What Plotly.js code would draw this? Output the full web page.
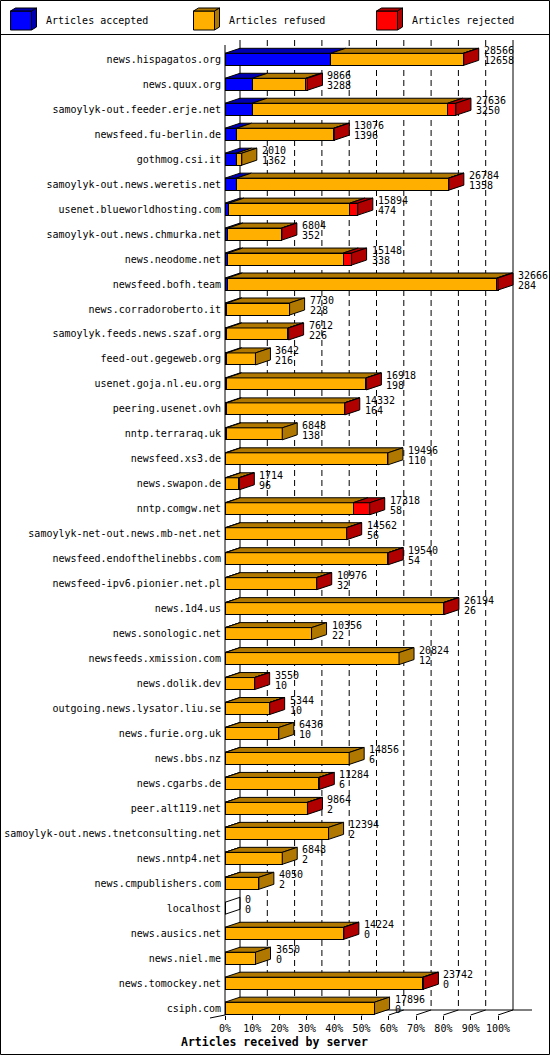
<!DOCTYPE html>
<html>
<head>
<meta charset="utf-8">
<script src="https://cdn.plot.ly/plotly-3.0.1.min.js"></script>
<style>html,body{margin:0;padding:0;background:#fff}</style>
</head>
<body>
<div id="chart" style="width:550px;height:1055px"></div>
<script>
// Articles received by server, innreport style
const servers = [
  'news.hispagatos.org', 'news.quux.org', 'samoylyk-out.feeder.erje.net', 'newsfeed.fu-berlin.de',
  'gothmog.csi.it', 'samoylyk-out.news.weretis.net', 'usenet.blueworldhosting.com',
  'samoylyk-out.news.chmurka.net', 'news.neodome.net', 'newsfeed.bofh.team', 'news.corradoroberto.it',
  'samoylyk.feeds.news.szaf.org', 'feed-out.gegeweb.org', 'usenet.goja.nl.eu.org', 'peering.usenet.ovh',
  'nntp.terraraq.uk', 'newsfeed.xs3.de', 'news.swapon.de', 'nntp.comgw.net',
  'samoylyk-net-out.news.mb-net.net', 'newsfeed.endofthelinebbs.com', 'newsfeed-ipv6.pionier.net.pl',
  'news.1d4.us', 'news.sonologic.net', 'newsfeeds.xmission.com', 'news.dolik.dev',
  'outgoing.news.lysator.liu.se', 'news.furie.org.uk', 'news.bbs.nz', 'news.cgarbs.de', 'peer.alt119.net',
  'samoylyk-out.news.tnetconsulting.net', 'news.nntp4.net', 'news.cmpublishers.com', 'localhost',
  'news.ausics.net', 'news.niel.me', 'news.tomockey.net', 'csiph.com'
];
const totals = [
  28566, 9866, 27636, 13076, 2010, 26784, 15894, 6804, 15148, 32666, 7730, 7612, 3642, 16918, 14332,
  6848, 19496, 1714, 17318, 14562, 19540, 10976, 26194, 10356, 20824, 3550, 5344, 6436, 14856, 11284,
  9864, 12394, 6848, 4050, 0, 14224, 3650, 23742, 17896
];
const accepted = [
  12658, 3288, 3250, 1396, 1362, 1358, 474, 352, 338, 284, 228, 226, 216, 198, 164, 138, 110, 96, 58,
  56, 54, 32, 26, 22, 12, 10, 10, 10, 6, 6, 2, 2, 2, 2, 0, 0, 0, 0, 0
];
// read off the red segments (estimates)
const rejected = [
  60, 200, 1000, 80, 0, 50, 950, 50, 1000, 150, 0, 80, 0, 60, 30, 0, 0, 50, 2000, 30, 40, 40, 100,
  0, 0, 40, 40, 0, 0, 40, 40, 0, 0, 0, 0, 30, 0, 100, 0
];
const refused = totals.map((t, i) => t - accepted[i] - rejected[i]);
const seriesNames = ['Articles accepted', 'Articles refused', 'Articles rejected'];
const faceColors = ['#0000FF', '#FFAF00', '#FF0000'];
const shadeColors = ['#0000B0', '#B07800', '#B00000'];
const pctTicks = [0, 10, 20, 30, 40, 50, 60, 70, 80, 90, 100];

// page geometry, pixels
const W = 550, H = 1055;
const PLOT_L = 225, PLOT_R = 545, PLOT_T = 40, PLOT_B = 1015;
const FULL_PX = 273;          // front face length of 100%
const DEPTH_X = 15, DEPTH_Y = 5;
const ROW_PX = 24.97, FIRST_ROW_PX = 59.3, BAR_PX = 12;
const BACK_FLOOR = 1010;
const FONT = 'DejaVu Sans Mono, Liberation Mono, monospace';

const maxTotal = Math.max(...totals);
const px2val = p => (p - PLOT_L) * maxTotal / FULL_PX;
const px2x = p => (p - PLOT_L) / (PLOT_R - PLOT_L);
const py2y = p => (PLOT_B - p) / (PLOT_B - PLOT_T);
const dxVal = DEPTH_X * maxTotal / FULL_PX;
const dyVal = DEPTH_Y / ROW_PX;
const halfBar = BAR_PX / 2 / ROW_PX;
const rows = servers.map((s, i) => i);
const yTop = -(FIRST_ROW_PX - PLOT_T) / ROW_PX;
const yBottom = (PLOT_B - FIRST_ROW_PX) / ROW_PX;

const black = { color: '#000', width: 1 };
const shapes = [];
const annotations = [];

// walls, floor and back grid
pctTicks.forEach(k => {
  const front = maxTotal * k / 100;
  const back = front + dxVal;
  shapes.push({
    type: 'line', layer: 'below', xref: 'x', yref: 'paper',
    x0: back, x1: back, y0: py2y(PLOT_T), y1: py2y(BACK_FLOOR),
    line: { color: '#000', width: 1, dash: (k === 0 || k === 100) ? 'solid' : '6px,4px' }
  });
  shapes.push({
    type: 'line', layer: 'below', xref: 'x', yref: 'paper',
    x0: front, x1: back, y0: 0, y1: py2y(BACK_FLOOR), line: black
  });
});
shapes.push({ type: 'line', layer: 'below', xref: 'x', yref: 'paper',
  x0: dxVal, x1: px2val(532), y0: py2y(BACK_FLOOR), y1: py2y(BACK_FLOOR), line: black });
shapes.push({ type: 'line', layer: 'below', xref: 'paper', yref: 'paper',
  x0: 0, x1: 0, y0: py2y(45), y1: 0, line: black });
shapes.push({ type: 'line', layer: 'below', xref: 'paper', yref: 'paper',
  x0: px2x(210), x1: 0, y0: py2y(1018), y1: 0, line: black });

// 3D top and side faces of each bar
servers.forEach((name, i) => {
  const parts = [accepted[i], refused[i], rejected[i]];
  const yt = i - halfBar, yb = i + halfBar;
  let x0 = 0, last = -1;
  parts.forEach((v, s) => {
    if (v <= 0) return;
    const x1 = x0 + v;
    shapes.push({
      type: 'path', layer: 'above', xref: 'x', yref: 'y',
      path: `M${x0},${yt}L${x1},${yt}L${x1 + dxVal},${yt - dyVal}L${x0 + dxVal},${yt - dyVal}Z`,
      fillcolor: shadeColors[s], line: black
    });
    x0 = x1;
    last = s;
  });
  const xe = totals[i];
  shapes.push({
    type: 'path', layer: 'above', xref: 'x', yref: 'y',
    path: `M${xe},${yt}L${xe + dxVal},${yt - dyVal}L${xe + dxVal},${yb - dyVal}L${xe},${yb}Z`,
    fillcolor: last >= 0 ? shadeColors[last] : 'rgba(0,0,0,0)', line: black
  });
  annotations.push({
    xref: 'x', yref: 'y', x: totals[i], y: i, xanchor: 'left', yanchor: 'middle',
    xshift: DEPTH_X + 3, yshift: 8.5, text: String(totals[i]), showarrow: false,
    font: { family: FONT, size: 10, color: '#000' }
  });
  annotations.push({
    xref: 'x', yref: 'y', x: totals[i], y: i, xanchor: 'left', yanchor: 'middle',
    xshift: DEPTH_X + 3, yshift: -1.5, text: String(accepted[i]), showarrow: false,
    font: { family: FONT, size: 10, color: '#000' }
  });
});

// legend: 3D boxes drawn by hand
const legendX = [10.5, 193.5, 376.5];
seriesNames.forEach((label, s) => {
  const l = legendX[s], r = l + 21, t = 11, b = 30, dx = 5, dy = 3;
  const P = (x, y) => `${px2x(x)},${py2y(y)}`;
  shapes.push({ type: 'rect', xref: 'paper', yref: 'paper',
    x0: px2x(l), x1: px2x(r), y0: py2y(b), y1: py2y(t), fillcolor: faceColors[s], line: black });
  shapes.push({ type: 'path', xref: 'paper', yref: 'paper',
    path: `M${P(l, t)}L${P(r, t)}L${P(r + dx, t - dy)}L${P(l + dx, t - dy)}Z`,
    fillcolor: shadeColors[s], line: black });
  shapes.push({ type: 'path', xref: 'paper', yref: 'paper',
    path: `M${P(r, t)}L${P(r + dx, t - dy)}L${P(r + dx, b - dy)}L${P(r, b)}Z`,
    fillcolor: shadeColors[s], line: black });
  annotations.push({ xref: 'paper', yref: 'paper', x: px2x(l + 33.5), y: py2y(20.5),
    xanchor: 'left', yanchor: 'middle', text: label, showarrow: false,
    font: { family: FONT, size: 10, color: '#000' } });
});

// frame and legend separator
shapes.push({ type: 'rect', xref: 'paper', yref: 'paper',
  x0: px2x(0.5), x1: px2x(W - 0.5), y0: py2y(H - 0.5), y1: py2y(0.5), line: black });
shapes.push({ type: 'line', xref: 'paper', yref: 'paper',
  x0: px2x(0), x1: px2x(W), y0: py2y(34.5), y1: py2y(34.5), line: black });

annotations.push({ xref: 'paper', yref: 'paper', x: px2x(179), y: py2y(1042),
  xanchor: 'left', yanchor: 'middle', text: '<b>Articles received by server</b>', showarrow: false,
  font: { family: FONT, size: 11.5, color: '#000' } });

const traces = seriesNames.map((name, s) => ({
  type: 'bar', orientation: 'h', name: name,
  y: rows, x: [accepted, refused, rejected][s],
  width: BAR_PX / ROW_PX,
  marker: { color: faceColors[s], line: black },
  hoverinfo: 'skip'
}));

const layout = {
  width: W, height: H,
  margin: { l: PLOT_L, r: W - PLOT_R, t: PLOT_T, b: H - PLOT_B, pad: 0 },
  barmode: 'stack',
  showlegend: false,
  paper_bgcolor: '#fff', plot_bgcolor: '#fff',
  xaxis: {
    range: [0, px2val(PLOT_R)], tickvals: pctTicks.map(k => maxTotal * k / 100),
    ticktext: pctTicks.map(k => k + '%'), ticks: 'outside', ticklen: 4, tickcolor: '#000',
    tickwidth: 1, showgrid: false, zeroline: false, showline: false,
    tickfont: { family: FONT, size: 10, color: '#000' }, fixedrange: true
  },
  yaxis: {
    range: [yBottom, yTop], tickvals: rows, ticktext: servers, ticks: '',
    showgrid: false, zeroline: false, showline: false, ticklabelstandoff: 3,
    tickfont: { family: FONT, size: 10, color: '#000' }, fixedrange: true
  },
  shapes: shapes,
  annotations: annotations
};

Plotly.newPlot('chart', traces, layout, { staticPlot: true, displayModeBar: false });
</script>
</body>
</html>
